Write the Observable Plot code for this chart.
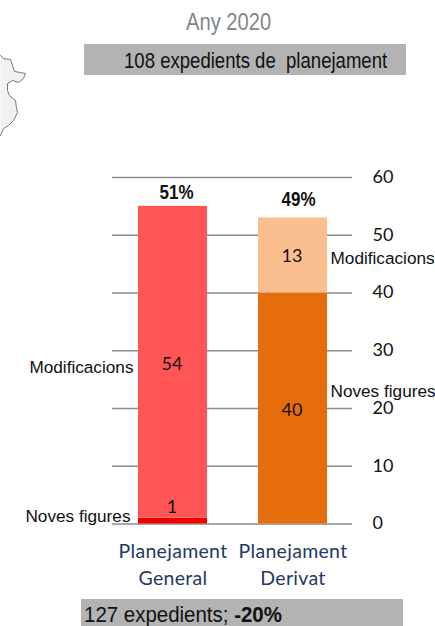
<!DOCTYPE html>
<html>
<head>
<meta charset="utf-8">
<script src="https://cdn.jsdelivr.net/npm/d3@7"></script>
<script src="https://cdn.jsdelivr.net/npm/@observablehq/plot@0.6"></script>
<style>
html,body{margin:0;padding:0;background:#fff;overflow:hidden}
#page{position:relative;width:435px;height:626px;overflow:hidden;font-family:"Liberation Sans",Arial,sans-serif}
.t{position:absolute;white-space:pre;transform-origin:0 50%;line-height:1}
.box{position:absolute;background:#b3b3b3}
#chart,#map{position:absolute}
#chart{left:0;top:150px}
#map{left:0;top:40px}
svg{display:block;background:transparent}
</style>
</head>
<body>
<div id="page">
  <div id="map"></div>
  <div class="t" id="year"></div>
  <div class="box" style="left:84px;top:44px;width:322px;height:31px"></div>
  <div class="t" id="head"></div>
  <div id="chart"></div>
  <div class="box" style="left:81px;top:599px;width:322px;height:27px"></div>
  <div class="t" id="foot"></div>
</div>
<script>
const yearTitle = "Any 2020";
const headText = "108 expedients de  planejament";
const footText = "127 expedients; ";
const footBold = "-20%";

const categories = ["Planejament General", "Planejament Derivat"];
const categoryLines = ["Planejament\nGeneral", "Planejament\nDerivat"];
const seriesNames = ["Noves figures", "Modificacions"];
const novesFigures = [1, 40];
const modificacions = [54, 13];
const shares = ["51%", "49%"];
const yTicks = [0, 10, 20, 30, 40, 50, 60];

const mapX = [0, 3, 10, 12, 14, 20, 25, 23, 18, 12, 7, 7, 9, 15, 16, 17, 13, 8, 3, 0];
const mapY = [15, 18, 19, 25, 31, 32, 33, 38, 42, 40, 43, 50, 55, 60, 68, 72, 80, 85, 88, 95];

const table = categories.flatMap((c, i) => [
  {category: c, series: seriesNames[0], value: novesFigures[i], base: 0},
  {category: c, series: seriesNames[1], value: modificacions[i], base: novesFigures[i]}
]).map(d => ({...d, top: d.base + d.value, mid: d.base + d.value / 2, key: d.category + d.series}));
const totals = categories.map((c, i) => ({category: c, total: novesFigures[i] + modificacions[i], share: shares[i]}));
const fills = {
  [categories[0] + seriesNames[0]]: "#ee0000",
  [categories[0] + seriesNames[1]]: "#ff5555",
  [categories[1] + seriesNames[0]]: "#e56d0b",
  [categories[1] + seriesNames[1]]: "#fbbf8f"
};

const sans = '"Liberation Sans",Arial,sans-serif';
const seg = (c, s) => table.filter(d => d.category === c && d.series === s);
const seriesLabel = (c, s, opts) => Plot.text(seg(c, s), {
  x: "category", y: "mid", text: "series", fontSize: 17.2, fill: "#111", fontFamily: sans, ...opts
});
const valueOpts = {x: "category", y: "mid", text: "value", fontSize: 18, fill: "#111", fontFamily: "Lato", dx: -1};
const shareOpts = {x: "category", y: "total", text: "share", fontSize: 20, fontWeight: 700, fill: "#111", fontFamily: sans, className: "share"};

const chart = Plot.plot({
  width: 435, height: 420,
  marginTop: 27, marginBottom: 46.5, marginLeft: 112, marginRight: 83,
  style: {background: "transparent", overflow: "visible"},
  x: {domain: categories, paddingInner: 0.425, paddingOuter: 0.2125, label: null, axis: null},
  y: {domain: [0, 60], label: null, axis: null},
  marks: [
    Plot.ruleY(yTicks, {stroke: "#8c8c8c", strokeWidth: 1.5}),
    Plot.barY(table, {x: "category", y1: "base", y2: "top", fill: d => fills[d.key]}),
    Plot.text(table.filter(d => d.value > 13), {...valueOpts, dy: 2}),
    Plot.text(table.filter(d => d.value === 13), {...valueOpts, dy: 1}),
    Plot.text(table.filter(d => d.value === 1), {...valueOpts, dy: -14}),
    Plot.text(totals.slice(0, 1), {...shareOpts, dx: 3.5, dy: -13.5}),
    Plot.text(totals.slice(1), {...shareOpts, dx: 5.5, dy: -18}),
    seriesLabel(categories[0], seriesNames[1], {textAnchor: "end", dx: -39.5, dy: 5}),
    seriesLabel(categories[0], seriesNames[0], {textAnchor: "end", dx: -42.5, dy: -5}),
    seriesLabel(categories[1], seriesNames[1], {textAnchor: "start", dx: 37.5, dy: 3.5}),
    seriesLabel(categories[1], seriesNames[0], {textAnchor: "start", dx: 37.5, dy: -17}),
    Plot.axisY({anchor: "right", ticks: yTicks, tickSize: 0, tickPadding: 20, label: null, fontSize: 18, fontFamily: "Lato", tickFormat: d => d, fill: "#111", dy: -0.5}),
    Plot.axisX({
      anchor: "bottom", tickSize: 0, tickPadding: 15, label: null,
      tickFormat: d => categoryLines[categories.indexOf(d)],
      fontSize: 19.5, fontFamily: "Lato", fill: "#1f3864", lineHeight: 1.38,
      className: "cat"
    })
  ]
});
document.getElementById("chart").append(chart);
d3.select(chart).selectAll(".share text").attr("transform", function () {
  return (this.getAttribute("transform") || "") + " scale(0.85,1)";
});
d3.select(chart).selectAll(".cat text").style("letter-spacing", "0.3px");

const mapPoints = mapX.map((x, i) => ({x, y: mapY[i]}));
const map = Plot.plot({
  width: 40, height: 100, margin: 0,
  style: {background: "transparent"},
  x: {type: "identity", axis: null},
  y: {type: "identity", axis: null},
  marks: [Plot.line(mapPoints, {x: "x", y: "y", fill: "#f1f1f1", stroke: "#777", strokeWidth: 1, curve: "linear"})]
});
document.getElementById("map").append(map);

function place(id, html, left, cy, px, sx, color) {
  const e = document.getElementById(id);
  e.innerHTML = html;
  e.style.cssText = `left:${left}px;top:${cy - px / 2}px;font-size:${px}px;color:${color};transform:scaleX(${sx});`;
}
place("year", yearTitle, 186, 22, 24, 0.84, "#858585");
place("head", headText, 124, 61, 22.5, 0.825, "#111");
place("foot", footText + "<b>" + footBold + "</b>", 84, 615, 22, 0.93, "#111");
</script>
</body>
</html>
